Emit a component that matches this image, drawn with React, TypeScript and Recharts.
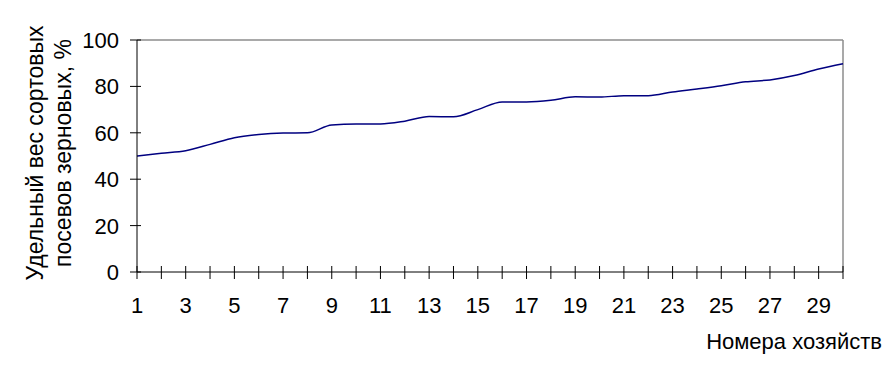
import { LineChart, Line, XAxis, YAxis, ReferenceLine } from 'recharts';

// household numbers and share of varietal grain sowings, %
const households = [
	1, 2, 3, 4, 5, 6, 7, 8, 9, 10, 11, 12, 13, 14, 15, 16, 17, 18, 19, 20, 21,
	22, 23, 24, 25, 26, 27, 28, 29, 30,
];
const shares = [
	50, 51.2, 52.3, 55, 57.9, 59.3, 59.9, 60, 63.4, 63.8, 63.8, 65, 67, 66.9,
	70, 73.3, 73.3, 74, 75.5, 75.4, 76, 76, 77.6, 78.9, 80.3, 82, 82.8, 84.7,
	87.5, 89.8,
];
const yTicks = [0, 20, 40, 60, 80, 100];
const yLabelLines = ['Удельный вес сортовых', 'посевов зерновых, %'];
const xLabel = 'Номера хозяйств';

const data = households.map((h, i) => ({ x: h, share: shares[i] }));

const FONT = '"Liberation Sans", Arial, sans-serif';
const FS = 22;

const XTick = (props: any) => {
	const { x, y, payload } = props;
	return (
		<g>
			<line x1={x} x2={x} y1={y - 6} y2={y + 7} stroke='#000' />
			{payload.value % 2 === 1 && (
				<text
					x={x}
					y={y + 41}
					textAnchor='middle'
					fontFamily={FONT}
					fontSize={FS}
					fill='#000'>
					{payload.value}
				</text>
			)}
		</g>
	);
};

const YTick = (props: any) => {
	const { x, y, payload } = props;
	return (
		<g>
			<line x1={x - 7} x2={x + 4} y1={y} y2={y} stroke='#000' />
			<text
				x={x - 18}
				y={y + 8}
				textAnchor='end'
				fontFamily={FONT}
				fontSize={FS}
				fill='#000'>
				{payload.value}
			</text>
		</g>
	);
};

const YLabel = () => (
	<g>
		{yLabelLines.map((t, i) => {
			const cx = i === 0 ? 35 : 63;
			const cy = 153;
			return (
				<text
					key={t}
					x={cx}
					y={cy}
					textAnchor='middle'
					dominantBaseline='central'
					transform={`rotate(-90 ${cx} ${cy})`}
					fontFamily={FONT}
					fontSize={23}
					fill='#000'>
					{t}
				</text>
			);
		})}
	</g>
);

const XLabel = () => (
	<text
		x={882}
		y={349}
		textAnchor='end'
		fontFamily={FONT}
		fontSize={FS}
		fill='#000'>
		{xLabel}
	</text>
);

export default function App() {
	return (
		<div
			style={{
				position: 'absolute',
				left: 0,
				top: 0,
				width: 892,
				height: 379,
				background: '#fff',
			}}>
			<LineChart
				width={892}
				height={379}
				data={data}
				margin={{ top: 40, right: 49, left: 60, bottom: 67 }}>
				<XAxis
					dataKey='x'
					type='number'
					domain={[1, 30]}
					ticks={households}
					interval={0}
					height={40}
					tickSize={0}
					tickMargin={0}
					tickLine={false}
					axisLine={{ stroke: '#000' }}
					tick={XTick}
					label={{ content: XLabel }}
				/>
				<YAxis
					domain={[0, 100]}
					ticks={yTicks}
					interval={0}
					width={77}
					tickSize={0}
					tickMargin={0}
					tickLine={false}
					axisLine={{ stroke: '#000' }}
					tick={YTick}
					label={{ content: YLabel }}
				/>
				<ReferenceLine y={100} stroke='#8c8c8c' strokeWidth={1.5} />
				<ReferenceLine x={30} stroke='#8c8c8c' strokeWidth={1.5} />
				<Line
					type='monotone'
					dataKey='share'
					stroke='#000080'
					strokeWidth={1.5}
					dot={false}
					isAnimationActive={false}
				/>
			</LineChart>
		</div>
	);
}
